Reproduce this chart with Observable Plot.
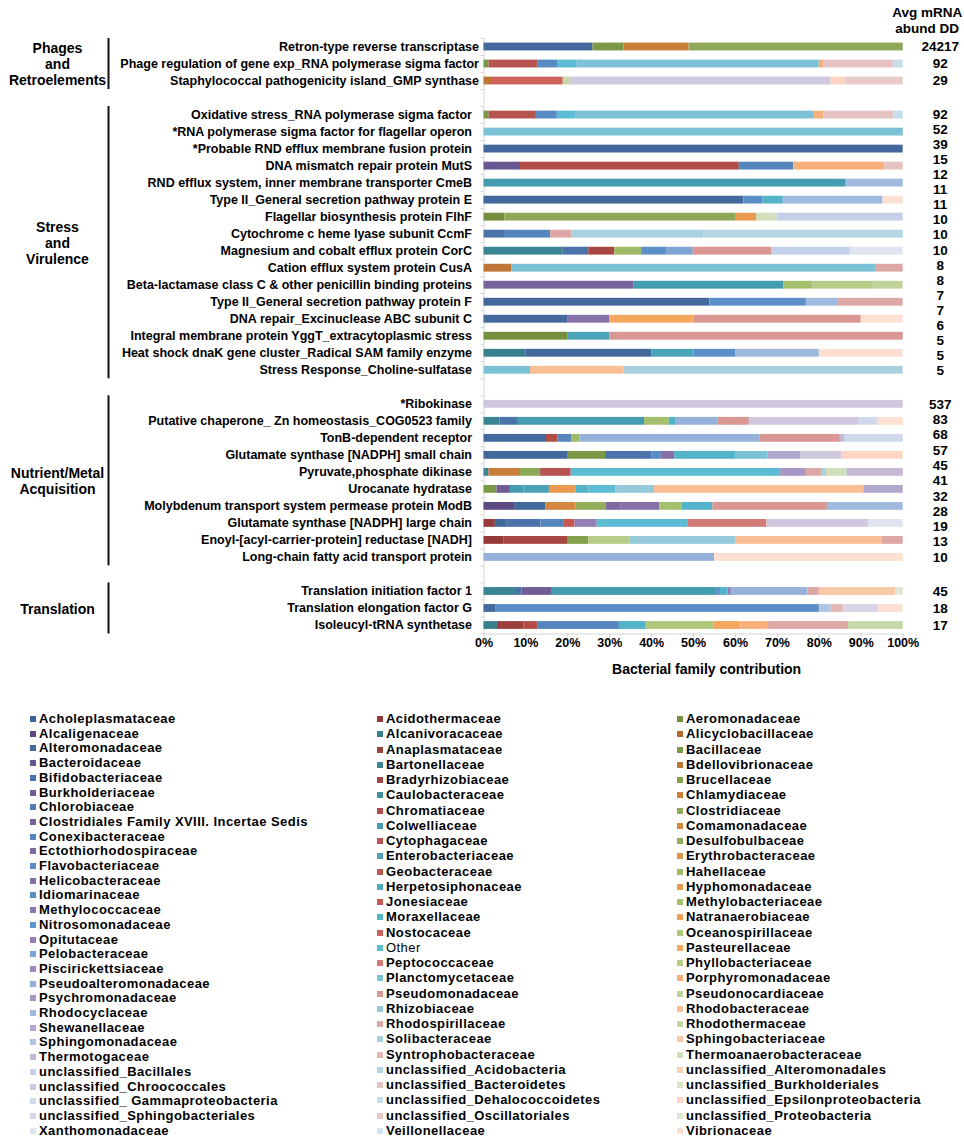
<!DOCTYPE html>
<html><head><meta charset="utf-8">
<script src="https://cdn.jsdelivr.net/npm/d3@7"></script>
<script src="https://cdn.jsdelivr.net/npm/@observablehq/plot@0.6"></script>
<style>
body{margin:0;background:#fff;font-family:"Liberation Sans",Arial,sans-serif;}
#wrap{position:relative;width:964px;height:1141px;overflow:hidden;}
#legend{position:absolute;top:712px;left:0;width:964px;height:426px;}
.col{position:absolute;top:0;height:100%;display:flex;flex-direction:column;justify-content:space-between;}
.item{display:flex;align-items:center;font-weight:bold;font-size:13px;letter-spacing:0.45px;line-height:14px;color:#000;white-space:nowrap;}
.item.plain{font-weight:normal;}
.sw{width:6px;height:6px;margin-right:3px;flex:none;}
</style></head>
<body><div id="wrap"><div id="chart"></div><div id="legend"></div></div>
<script>
// ---------- families (alphabetical; legend is read row-major over 3 columns) ----------
const families = [
"Acholeplasmataceae","Acidothermaceae","Aeromonadaceae","Alcaligenaceae","Alcanivoracaceae","Alicyclobacillaceae",
"Alteromonadaceae","Anaplasmataceae","Bacillaceae","Bacteroidaceae","Bartonellaceae","Bdellovibrionaceae",
"Bifidobacteriaceae","Bradyrhizobiaceae","Brucellaceae","Burkholderiaceae","Caulobacteraceae","Chlamydiaceae",
"Chlorobiaceae","Chromatiaceae","Clostridiaceae","Clostridiales Family XVIII. Incertae Sedis","Colwelliaceae","Comamonadaceae",
"Conexibacteraceae","Cytophagaceae","Desulfobulbaceae","Ectothiorhodospiraceae","Enterobacteriaceae","Erythrobacteraceae",
"Flavobacteriaceae","Geobacteraceae","Hahellaceae","Helicobacteraceae","Herpetosiphonaceae","Hyphomonadaceae",
"Idiomarinaceae","Jonesiaceae","Methylobacteriaceae","Methylococcaceae","Moraxellaceae","Natranaerobiaceae",
"Nitrosomonadaceae","Nostocaceae","Oceanospirillaceae","Opitutaceae","Other","Pasteurellaceae",
"Pelobacteraceae","Peptococcaceae","Phyllobacteriaceae","Piscirickettsiaceae","Planctomycetaceae","Porphyromonadaceae",
"Pseudoalteromonadaceae","Pseudomonadaceae","Pseudonocardiaceae","Psychromonadaceae","Rhizobiaceae","Rhodobacteraceae",
"Rhodocyclaceae","Rhodospirillaceae","Rhodothermaceae","Shewanellaceae","Solibacteraceae","Sphingobacteriaceae",
"Sphingomonadaceae","Syntrophobacteraceae","Thermoanaerobacteraceae","Thermotogaceae","unclassified_Acidobacteria","unclassified_Alteromonadales",
"unclassified_Bacillales","unclassified_Bacteroidetes","unclassified_Burkholderiales","unclassified_Chroococcales","unclassified_Dehalococcoidetes","unclassified_Epsilonproteobacteria",
"unclassified_ Gammaproteobacteria","unclassified_Oscillatoriales","unclassified_Proteobacteria","unclassified_Sphingobacteriales","Veillonellaceae","Vibrionaceae",
"Xanthomonadaceae"];

// colour ramps (dark -> light), one per hue in the series cycle
const blues   = ["#3d6496","#43699c","#4a74a9","#4f7db4","#5585bd","#588bc3","#5b8fc8","#5f95cf","#7ea4d3","#96b1d9","#a0b9de","#b0c5e3","#c3d0e8","#d0d9ec","#dee4f0"];
const reds    = ["#953a38","#9c403e","#a84642","#b24c47","#b85450","#c05650","#c85752","#d0625c","#d07b77","#d99693","#dca7a5","#e2b7b6","#e5c3c2","#e9cbca"];
const greens  = ["#74903f","#7b9846","#84a14e","#8fa858","#93ad5b","#9fba66","#a5c06c","#afc77b","#b7cc89","#c0d39c","#c7d8a8","#d1dfbb","#d9e4c7","#e0e8d3"];
const purples = ["#5c4a80","#685690","#715c96","#78639b","#7e6aa0","#8571a8","#8c79ae","#937fb5","#9c8cbd","#a598c4","#b2a7cc","#c3b9d6","#d0c8de","#dad5e6"];
const teals   = ["#387f8e","#3b8494","#3f8fa0","#449cb0","#4aa3b9","#4eaec4","#53b3c9","#5bbcd3","#7cc2d6","#96c9da","#a8d0df","#b5d7e3","#c4dfe9","#d0e5ee"];
const oranges = ["#b46a2e","#bf7536","#c97e39","#d3873f","#dd9047","#e99a50","#f2a057","#f5a75f","#f7b07a","#f9be96","#f9c8a6","#fbd0b4","#fcd6c2","#fde0d2"];
const hueCycle = [blues, reds, greens, purples, teals, oranges];
const familyColors = families.map((f, i) => hueCycle[i % 6][Math.floor(i / 6)]);

// ---------- categories ----------
const groupNames = ["Phages\nand\nRetroelements", "Stress\nand\nVirulence", "Nutrient/Metal\nAcquisition", "Translation"];

const phagesGenes = [
"Retron-type reverse transcriptase",
"Phage regulation of gene exp_RNA polymerase sigma factor",
"Staphylococcal pathogenicity island_GMP synthase"];
const stressGenes = [
"Oxidative stress_RNA polymerase sigma factor",
"*RNA polymerase sigma factor for flagellar operon",
"*Probable RND efflux membrane fusion protein",
"DNA mismatch repair protein MutS",
"RND efflux system, inner membrane transporter CmeB",
"Type II_General secretion pathway protein E",
"Flagellar biosynthesis protein FlhF",
"Cytochrome c heme lyase subunit CcmF",
"Magnesium and cobalt efflux protein CorC",
"Cation efflux system protein CusA",
"Beta-lactamase class C & other penicillin binding proteins",
"Type II_General secretion pathway protein F",
"DNA repair_Excinuclease ABC subunit C",
"Integral membrane protein YggT_extracytoplasmic stress",
"Heat shock dnaK gene cluster_Radical SAM family enzyme",
"Stress Response_Choline-sulfatase"];
const nutrientGenes = [
"*Ribokinase",
"Putative chaperone_ Zn homeostasis_COG0523 family",
"TonB-dependent receptor",
"Glutamate synthase [NADPH] small chain",
"Pyruvate,phosphate dikinase",
"Urocanate hydratase",
"Molybdenum transport system permease protein ModB",
"Glutamate synthase [NADPH] large chain",
"Enoyl-[acyl-carrier-protein] reductase [NADH]",
"Long-chain fatty acid transport protein"];
const translationGenes = [
"Translation initiation factor 1",
"Translation elongation factor G",
"Isoleucyl-tRNA synthetase"];

// ---------- Avg mRNA abund DD (right-hand column) ----------
const phagesAbund = [24217, 92, 29];
const stressAbund = [92, 52, 39, 15, 12, 11, 11, 10, 10, 10, 8, 8, 7, 7, 6, 5, 5, 5];
const nutrientAbund = [537, 83, 68, 57, 45, 41, 32, 28, 19, 13, 10];
const translationAbund = [45, 18, 17];

// ---------- bacterial family contribution (%) per gene, in series order ----------
const phagesMix = [
 [["Alteromonadaceae",26.0],["Bacillaceae",7.4],["Chlamydiaceae",15.5],["Clostridiaceae",51.1]],
 [["Bacillaceae",1.2],["Cytophagaceae",11.6],["Flavobacteriaceae",4.9],["Other",4.4],["Planctomycetaceae",57.9],["Porphyromonadaceae",1.1],["unclassified_Bacteroidetes",16.7],["unclassified_Dehalococcoidetes",2.2]],
 [["Bdellovibrionaceae",1.8],["Nostocaceae",17.1],["Rhodothermaceae",1.9],["unclassified_Chroococcales",62.0],["unclassified_Epsilonproteobacteria",3.4],["unclassified_Oscillatoriales",13.8]]
];
const stressMix = [
 [["Bacillaceae",1.2],["Cytophagaceae",11.3],["Flavobacteriaceae",5.0],["Other",4.3],["Planctomycetaceae",57.0],["Porphyromonadaceae",2.3],["unclassified_Bacteroidetes",16.7],["unclassified_Dehalococcoidetes",2.2]],
 [["Planctomycetaceae",100]],
 [["Alteromonadaceae",100]],
 [["Bacteroidaceae",8.7],["Chromatiaceae",52.2],["Conexibacteraceae",13.0],["Porphyromonadaceae",21.7],["unclassified_Bacteroidetes",4.4]],
 [["Colwelliaceae",86.4],["Rhodocyclaceae",13.6]],
 [["Alteromonadaceae",62.0],["Idiomarinaceae",4.6],["Moraxellaceae",4.8],["Rhodocyclaceae",23.8],["Vibrionaceae",4.8]],
 [["Aeromonadaceae",5.0],["Clostridiaceae",55.0],["Hyphomonadaceae",5.0],["Thermoanaerobacteraceae",4.9],["unclassified_Bacillales",30.1]],
 [["Bifidobacteriaceae",5.1],["Conexibacteraceae",10.8],["Rhodospirillaceae",5.1],["Solibacteraceae",31.4],["unclassified_Acidobacteria",47.6]],
 [["Bartonellaceae",18.9],["Bifidobacteriaceae",6.1],["Bradyrhizobiaceae",6.2],["Hahellaceae",6.4],["Idiomarinaceae",6.1],["Pelobacteraceae",6.2],["Pseudomonadaceae",18.8],["unclassified_Bacillales",18.7],["Xanthomonadaceae",12.6]],
 [["Bdellovibrionaceae",6.7],["Planctomycetaceae",86.7],["Rhodospirillaceae",6.6]],
 [["Clostridiales Family XVIII. Incertae Sedis",35.7],["Colwelliaceae",35.8],["Methylobacteriaceae",7.0],["Phyllobacteriaceae",14.2],["Pseudonocardiaceae",7.3]],
 [["Alteromonadaceae",53.9],["Idiomarinaceae",23.0],["Rhodocyclaceae",7.7],["Rhodospirillaceae",15.4]],
 [["Alteromonadaceae",20.1],["Helicobacteraceae",9.9],["Pasteurellaceae",20.1],["Pseudomonadaceae",39.9],["Vibrionaceae",10.0]],
 [["Aeromonadaceae",20.1],["Enterobacteriaceae",9.9],["Pseudomonadaceae",70.0]],
 [["Alcanivoracaceae",10.1],["Alteromonadaceae",29.9],["Enterobacteriaceae",10.1],["Idiomarinaceae",9.9],["Rhodocyclaceae",20.0],["Vibrionaceae",20.0]],
 [["Planctomycetaceae",11.1],["Rhodobacteraceae",22.3],["Solibacteraceae",66.6]]
];
const nutrientMix = [
 [["unclassified_Chroococcales",100]],
 [["Bartonellaceae",3.8],["Bifidobacteriaceae",4.4],["Colwelliaceae",30.1],["Methylobacteriaceae",5.9],["Moraxellaceae",1.5],["Pseudoalteromonadaceae",10.2],["Pseudomonadaceae",7.4],["unclassified_Chroococcales",26.4],["unclassified_ Gammaproteobacteria",4.3],["Vibrionaceae",6.0]],
 [["Alteromonadaceae",14.9],["Chromatiaceae",2.7],["Conexibacteraceae",3.4],["Hahellaceae",1.9],["Pseudoalteromonadaceae",42.9],["Pseudomonadaceae",19.2],["Thermotogaceae",1.0],["unclassified_ Gammaproteobacteria",14.0]],
 [["Alteromonadaceae",20.1],["Bacillaceae",8.9],["Bifidobacteriaceae",11.0],["Flavobacteriaceae",2.3],["Helicobacteraceae",3.2],["Moraxellaceae",14.5],["Planctomycetaceae",7.7],["Shewanellaceae",7.8],["unclassified_Chroococcales",9.9],["unclassified_Epsilonproteobacteria",14.6]],
 [["Bartonellaceae",1.2],["Chlamydiaceae",7.5],["Clostridiaceae",4.8],["Cytophagaceae",7.3],["Other",49.9],["Psychromonadaceae",6.2],["Rhodospirillaceae",3.6],["Solibacteraceae",1.2],["Thermoanaerobacteraceae",4.9],["Thermotogaceae",13.4]],
 [["Bacillaceae",3.1],["Burkholderiaceae",3.2],["Colwelliaceae",3.2],["Enterobacteriaceae",6.1],["Hyphomonadaceae",6.4],["Moraxellaceae",3.0],["Other",6.4],["Rhizobiaceae",9.3],["Rhodobacteraceae",49.9],["Shewanellaceae",9.4]],
 [["Alcaligenaceae",7.3],["Alteromonadaceae",7.4],["Comamonadaceae",7.3],["Desulfobulbaceae",7.1],["Ectothiorhodospiraceae",3.5],["Helicobacteraceae",9.3],["Methylobacteriaceae",5.4],["Moraxellaceae",7.3],["Pseudomonadaceae",27.3],["Rhodocyclaceae",18.1]],
 [["Acidothermaceae",2.7],["Alteromonadaceae",2.7],["Bifidobacteriaceae",8.2],["Conexibacteraceae",5.4],["Jonesiaceae",2.7],["Opitutaceae",5.3],["Other",21.6],["Peptococcaceae",18.9],["unclassified_Chroococcales",24.3],["Xanthomonadaceae",8.2]],
 [["Acidothermaceae",4.7],["Bradyrhizobiaceae",15.4],["Brucellaceae",4.9],["Phyllobacteriaceae",9.9],["Rhizobiaceae",25.1],["Rhodobacteraceae",35.0],["Rhodospirillaceae",5.0]],
 [["Pseudoalteromonadaceae",55.0],["Vibrionaceae",45.0]]
];
const translationMix = [
 [["Bartonellaceae",7.5],["Bifidobacteriaceae",1.6],["Burkholderiaceae",7.2],["Colwelliaceae",39.2],["Idiomarinaceae",0.9],["Moraxellaceae",1.8],["Opitutaceae",0.8],["Pseudoalteromonadaceae",18.3],["Rhodospirillaceae",2.7],["Sphingobacteriaceae",18.2],["unclassified_Proteobacteria",1.8]],
 [["Alteromonadaceae",2.9],["Idiomarinaceae",77.1],["Sphingomonadaceae",2.8],["Syntrophobacteraceae",2.9],["unclassified_Sphingobacteriales",8.5],["Vibrionaceae",5.8]],
 [["Alcanivoracaceae",3.2],["Anaplasmataceae",6.3],["Chromatiaceae",3.3],["Conexibacteraceae",19.5],["Moraxellaceae",6.4],["Oceanospirillaceae",16.1],["Pasteurellaceae",6.5],["Porphyromonadaceae",6.4],["Rhodospirillaceae",19.3],["Rhodothermaceae",13.0]]
];

const xTicks = [0, 10, 20, 30, 40, 50, 60, 70, 80, 90, 100];

// ---------- build tables ----------
const genesByGroup = [phagesGenes, stressGenes, nutrientGenes, translationGenes];
const mixByGroup = [phagesMix, stressMix, nutrientMix, translationMix];
const abundByGroup = [phagesAbund, stressAbund, nutrientAbund, translationAbund];

const rows = [], groupInfo = [];
let r = 0;
genesByGroup.forEach((genes, gi) => {
  const r0 = r;
  genes.forEach((gene, k) => rows.push({group: gi, gene, row: r + k, mix: mixByGroup[gi][k]}));
  r += genes.length;
  groupInfo.push({name: groupNames[gi], r0, r1: r - 1, abund: abundByGroup[gi]});
  r += 1; // blank slot between groups
});
const lastRow = rows[rows.length - 1].row;
const yTop = -0.5, yBottom = lastRow + 0.5;

const segments = rows.flatMap(d => {
  let acc = 0;
  return d.mix.map(([family, pct]) => ({row: d.row, family, x1: acc, x2: (acc += pct)}));
});
const abundMarks = groupInfo.flatMap(g => g.abund.map((v, k) => ({
  v, y: g.r0 + (g.abund.length > 1 ? k * (g.r1 - g.r0) / (g.abund.length - 1) : 0)
})));
const rowBounds = d3.range(yTop, yBottom + 0.01, 1);
const half = 0.23;

const chart = Plot.plot({
  width: 964,
  height: 690,
  marginLeft: 483.5,
  marginRight: 61.3,
  marginTop: 38,
  marginBottom: 56.5,
  style: {fontFamily: "'Liberation Sans', Arial, sans-serif", fontSize: "12px", background: "#fff", color: "#000"},
  x: {domain: [0, 100]},
  y: {domain: [yTop, yBottom], reverse: true},
  color: {domain: families, range: familyColors},
  marks: [
    Plot.ruleX([0], {stroke: "#d6d6d6"}),
    Plot.ruleY([yBottom], {stroke: "#d6d6d6"}),
    Plot.axisY({ticks: rowBounds, tickFormat: () => "", tickSize: 3, stroke: "#d0d0d0", label: null}),
    Plot.axisX({ticks: xTicks, tickFormat: d => d + "%", tickSize: 4, tickPadding: 0, stroke: "#cfcfcf", fill: "#000",
                fontWeight: "bold", fontSize: 12.5, label: null}),
    Plot.rectX(segments, {x1: "x1", x2: "x2", y1: d => d.row - half, y2: d => d.row + half, fill: "family"}),
    Plot.text(rows.filter(d => d.group === 0), {x: 0, y: "row", text: "gene", textAnchor: "end", dx: -5, fontWeight: "bold", fontSize: 12.5}),
    Plot.text(rows.filter(d => d.group !== 0), {x: 0, y: "row", text: "gene", textAnchor: "end", dx: -12, fontWeight: "bold", fontSize: 12.5}),
    Plot.text(abundMarks, {x: 100, y: "y", text: d => String(d.v), dx: 37, fontWeight: "bold", fontSize: 13.5}),
    Plot.ruleX(groupInfo, {x: 0, y1: d => d.r0 - 0.5, y2: d => d.r1 + 0.5, dx: -375.5, stroke: "#111", strokeWidth: 2}),
    Plot.text(groupInfo, {x: 0, y: d => (d.r0 + d.r1) / 2, text: "name", dx: -426.5, fontWeight: "bold", fontSize: 14, lineHeight: 1.15}),
    Plot.text(["Avg mRNA\nabund DD"], {x: 100, y: yTop, dx: 24, dy: -18.5, fontWeight: "bold", fontSize: 13.5, lineHeight: 1.2}),
    Plot.text(["Bacterial family contribution"], {x: 50, y: yBottom, dx: 13, dy: 36, fontWeight: "bold", fontSize: 14})
  ]
});
document.getElementById("chart").append(chart);

// ---------- legend (row-major over three columns) ----------
const legend = d3.select("#legend");
const colLefts = [30, 377, 677];
[0, 1, 2].forEach(c => {
  const col = legend.append("div").attr("class", "col").style("left", colLefts[c] + "px");
  families.forEach((f, i) => {
    if (i % 3 !== c) return;
    const item = col.append("div").attr("class", f === "Other" ? "item plain" : "item");
    item.append("span").attr("class", "sw").style("background", familyColors[i]);
    item.append("span").text(f);
  });
});
</script>
</body></html>
